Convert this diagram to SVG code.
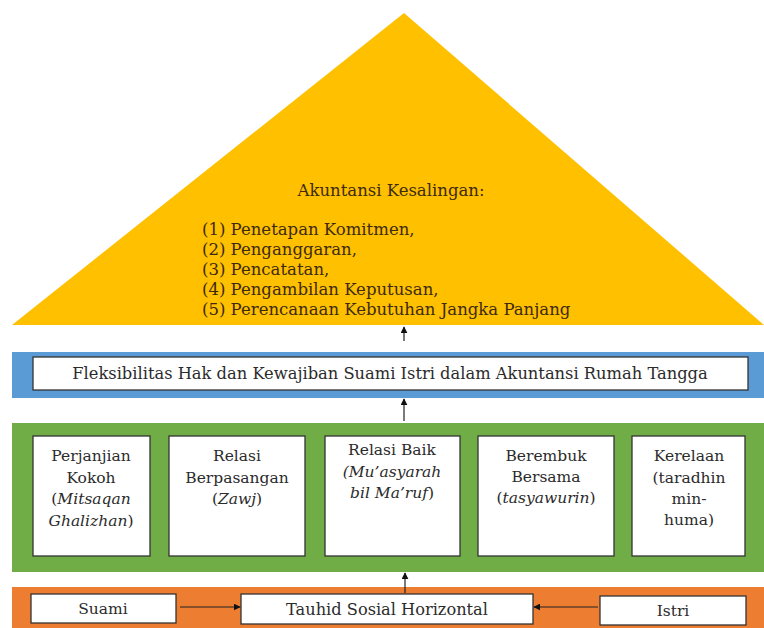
<svg xmlns="http://www.w3.org/2000/svg" width="764" height="628" viewBox="0 0 764 628">
<defs>
<marker id="ah" viewBox="0 0 10 10" refX="9" refY="5" markerWidth="7" markerHeight="7" markerUnits="userSpaceOnUse" orient="auto">
<path d="M0,0 L10,5 L0,10 z" fill="#111"/>
</marker>
<style>
.t{font-family:"DejaVu Serif","Liberation Serif",serif;font-size:15.5px;fill:#2b2b2b}
.y{font-size:16.5px;fill:#3d2a10}
.c{text-anchor:middle}
.box{fill:#fff;stroke:#333;stroke-width:1.3}
.ln{stroke:#222;stroke-width:1.2;fill:none;marker-end:url(#ah)}
</style>
</defs>
<rect width="764" height="628" fill="#fff"/>
<g id="pyramid">
<polygon points="404,13 12,325 764,325" fill="#FFC000"/>
<text class="t y c" x="391" y="196">Akuntansi Kesalingan:</text>
<text class="t y" x="202" y="235">(1) Penetapan Komitmen,</text>
<text class="t y" x="202" y="255">(2) Penganggaran,</text>
<text class="t y" x="202" y="275">(3) Pencatatan,</text>
<text class="t y" x="202" y="295">(4) Pengambilan Keputusan,</text>
<text class="t y" x="202" y="315">(5) Perencanaan Kebutuhan Jangka Panjang</text>
</g>
<g id="fleksibilitas">
<rect x="12" y="352" width="752" height="46" fill="#5B9BD5"/>
<rect class="box" x="33" y="357" width="715" height="33"/>
<text class="t c" x="390" y="379" style="font-size:16.3px">Fleksibilitas Hak dan Kewajiban Suami Istri dalam Akuntansi Rumah Tangga</text>
</g>
<g id="band-green">
<rect x="12" y="423" width="752" height="149" fill="#70AD47"/>
</g>
<g id="perjanjian">
<rect class="box" x="33" y="436" width="117" height="120"/>
<text class="t c" x="91" y="461">Perjanjian</text>
<text class="t c" x="91" y="483">Kokoh</text>
<text class="t c" x="91" y="504">(<tspan font-style="italic">Mitsaqan</tspan></text>
<text class="t c" x="91" y="526"><tspan font-style="italic">Ghalizhan</tspan>)</text>
</g>
<g id="relasi-berpasangan">
<rect class="box" x="169" y="436" width="136" height="120"/>
<text class="t c" x="237" y="461">Relasi</text>
<text class="t c" x="237" y="483">Berpasangan</text>
<text class="t c" x="237" y="504">(<tspan font-style="italic">Zawj</tspan>)</text>
</g>
<g id="relasi-baik">
<rect class="box" x="325" y="436" width="135" height="120"/>
<text class="t c" x="392" y="455">Relasi Baik</text>
<text class="t c" x="392" y="477" font-style="italic">(Mu’asyarah</text>
<text class="t c" x="392" y="498"><tspan font-style="italic">bil Ma’ruf</tspan>)</text>
</g>
<g id="berembuk">
<rect class="box" x="478" y="436" width="136" height="120"/>
<text class="t c" x="546" y="461">Berembuk</text>
<text class="t c" x="546" y="482">Bersama</text>
<text class="t c" x="546" y="503">(<tspan font-style="italic">tasyawurin</tspan>)</text>
</g>
<g id="kerelaan">
<rect class="box" x="632" y="436" width="113" height="120"/>
<text class="t c" x="689" y="461">Kerelaan</text>
<text class="t c" x="689" y="483">(taradhin</text>
<text class="t c" x="689" y="504">min-</text>
<text class="t c" x="689" y="525">huma)</text>
</g>
<g id="band-orange">
<rect x="12" y="587" width="752" height="41" fill="#ED7D31"/>
</g>
<g id="suami">
<rect class="box" x="31" y="594" width="145" height="29"/>
<text class="t c" x="103" y="614">Suami</text>
</g>
<g id="tauhid">
<rect class="box" x="241" y="594" width="292" height="30"/>
<text class="t c" x="387" y="615" style="font-size:16.2px">Tauhid Sosial Horizontal</text>
</g>
<g id="istri">
<rect class="box" x="600" y="596" width="146" height="29"/>
<text class="t c" x="673" y="616">Istri</text>
</g>
<g id="connectors">
<line class="ln" x1="404" y1="341" x2="404" y2="327"/>
<line class="ln" x1="404" y1="421" x2="404" y2="399"/>
<line class="ln" x1="405" y1="593" x2="405" y2="573"/>
<line class="ln" x1="180" y1="607" x2="240" y2="607"/>
<line class="ln" x1="598" y1="607" x2="534" y2="607"/>
</g>
</svg>
